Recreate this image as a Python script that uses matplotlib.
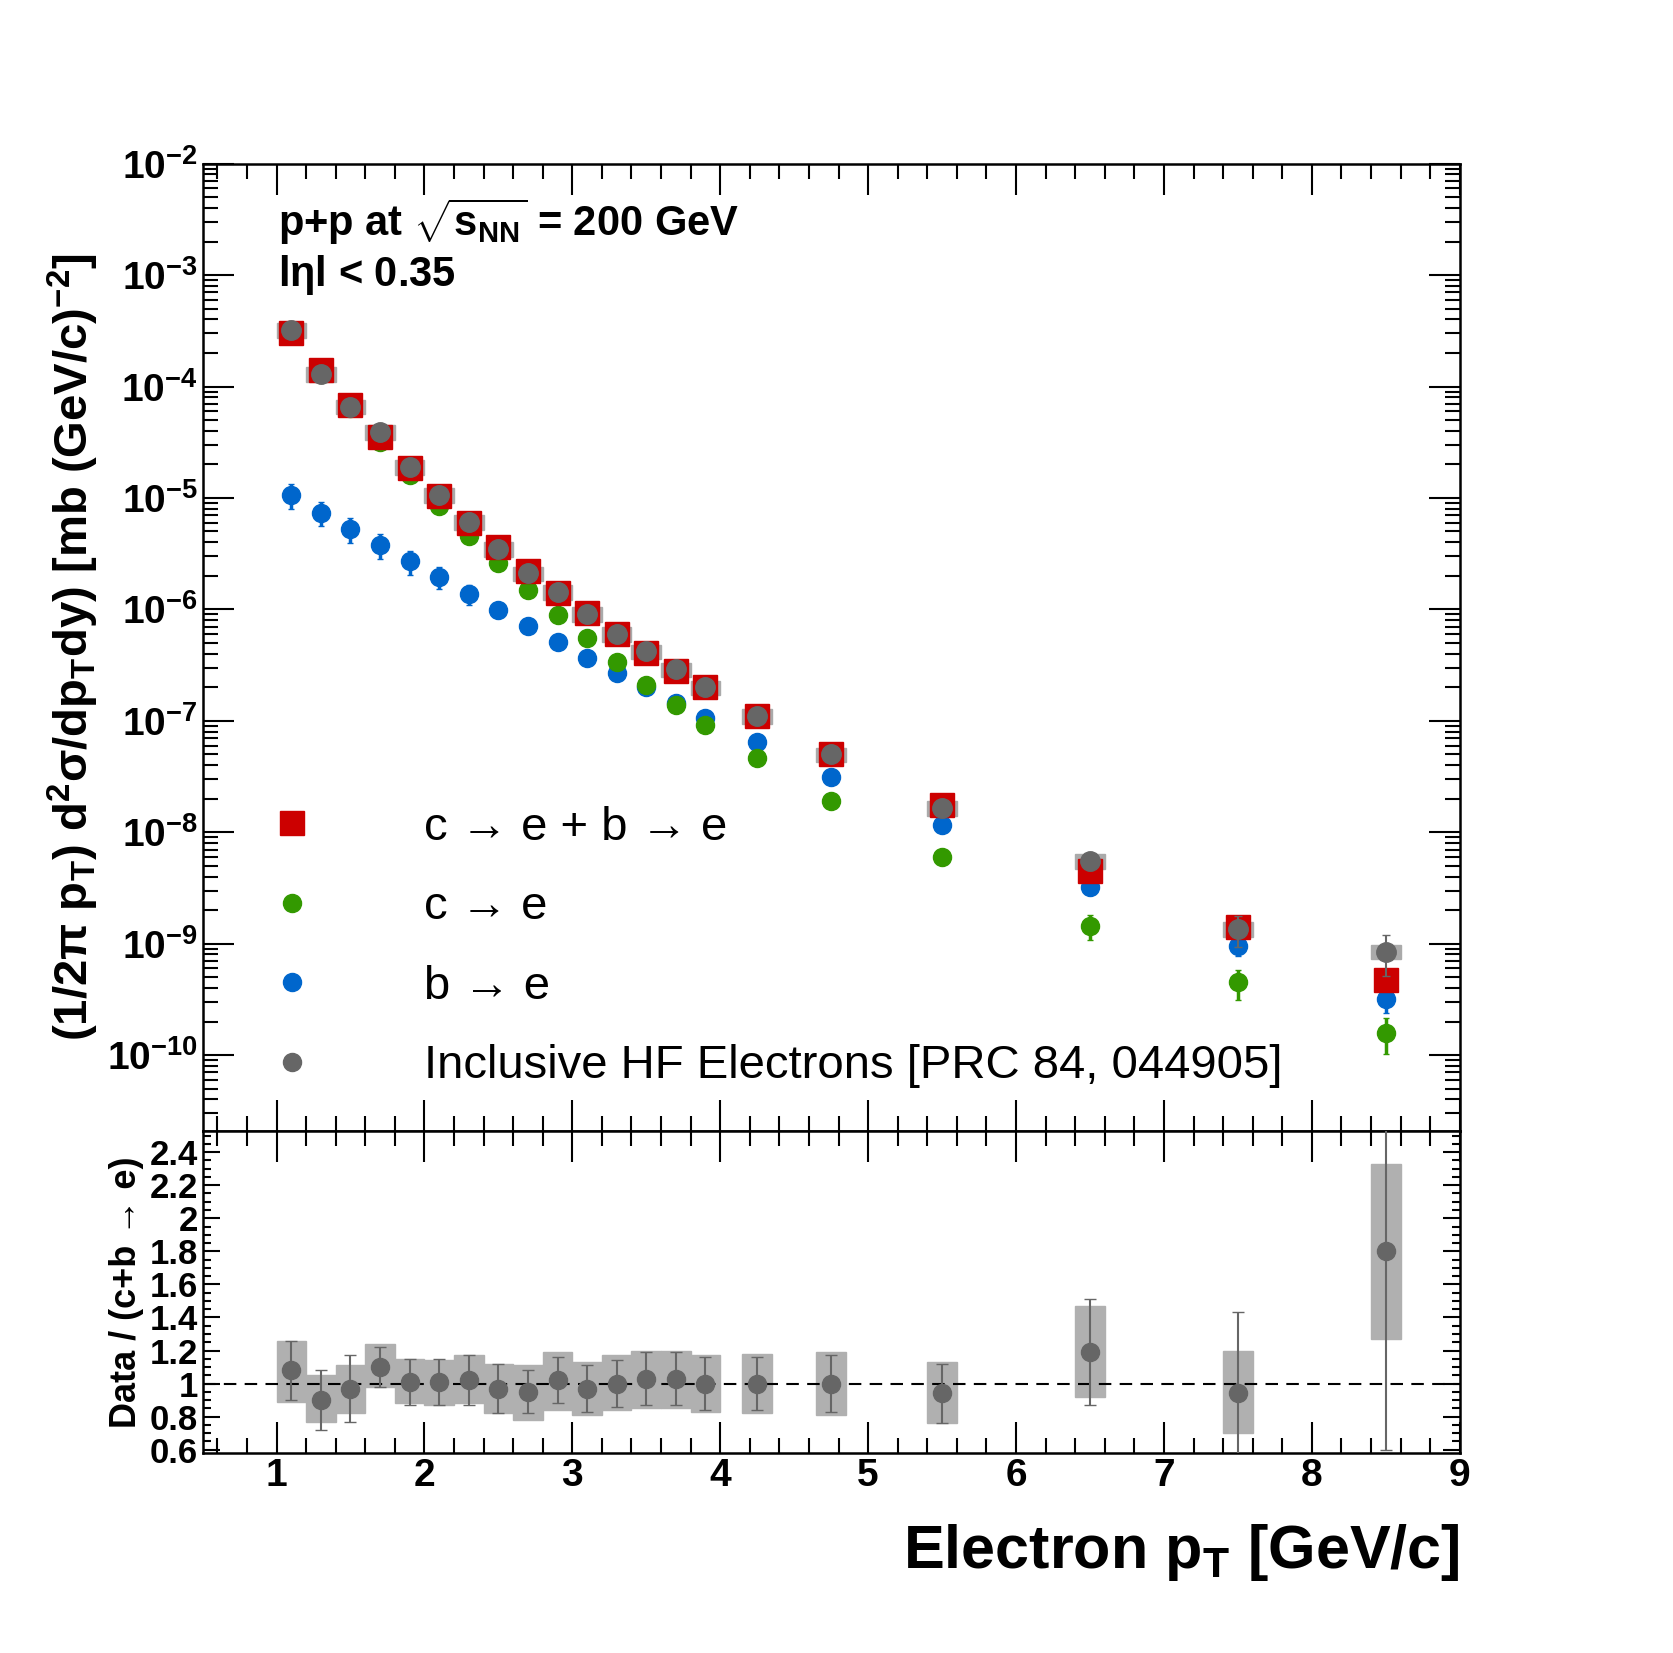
import numpy as np
import matplotlib.pyplot as plt
import matplotlib
from matplotlib.patches import Rectangle
from matplotlib.lines import Line2D
from matplotlib.ticker import LogLocator, MultipleLocator, NullFormatter

matplotlib.rcParams.update({'font.family': 'Liberation Sans', 'font.weight': 'bold',
                            'mathtext.fontset': 'custom', 'mathtext.rm': 'Liberation Sans:bold',
                            'mathtext.it': 'Liberation Sans:bold',
                            'mathtext.bf': 'Liberation Sans:bold', 'mathtext.default': 'bf'})

pt = [1.1, 1.3, 1.5, 1.7, 1.9, 2.1, 2.3, 2.5, 2.7, 2.9, 3.1, 3.3, 3.5, 3.7, 3.9, 4.25, 4.75, 5.5, 6.5, 7.5, 8.5]
incl = [3.2e-4, 1.3e-4, 6.6e-5, 3.9e-5, 1.9e-5, 1.06e-5, 6.1e-6, 3.5e-6, 2.1e-6, 1.43e-6, 9.1e-7, 6.0e-7,
        4.2e-7, 2.9e-7, 2.0e-7, 1.1e-7, 5.0e-8, 1.65e-8, 5.5e-9, 1.35e-9, 8.5e-10]
cb = [3.0e-4, 1.4e-4, 6.8e-5, 3.5e-5, 1.85e-5, 1.05e-5, 6.0e-6, 3.6e-6, 2.2e-6, 1.4e-6, 9.3e-7, 6.0e-7,
      4.1e-7, 2.8e-7, 2.0e-7, 1.1e-7, 5.0e-8, 1.75e-8, 4.5e-9, 1.4e-9, 4.7e-10]
ce = [2.9e-4, 1.3e-4, 6.4e-5, 3.2e-5, 1.6e-5, 8.5e-6, 4.6e-6, 2.6e-6, 1.5e-6, 8.9e-7, 5.5e-7, 3.4e-7,
      2.1e-7, 1.38e-7, 9.1e-8, 4.6e-8, 1.9e-8, 6.0e-9, 1.45e-9, 4.5e-10, 1.58e-10]
be = [1.07e-5, 7.4e-6, 5.3e-6, 3.8e-6, 2.7e-6, 1.95e-6, 1.37e-6, 9.8e-7, 7.1e-7, 5.1e-7, 3.7e-7, 2.7e-7,
      2.0e-7, 1.45e-7, 1.07e-7, 6.5e-8, 3.1e-8, 1.15e-8, 3.2e-9, 9.6e-10, 3.2e-10]
ratio = [1.08, 0.90, 0.97, 1.10, 1.01, 1.01, 1.02, 0.97, 0.95, 1.02, 0.97, 1.00, 1.03, 1.03, 1.00,
         1.00, 1.00, 0.94, 1.19, 0.94, 1.80]
ratio_stat = [0.18, 0.18, 0.20, 0.12, 0.14, 0.14, 0.15, 0.15, 0.13, 0.14, 0.14, 0.14, 0.16, 0.16, 0.16,
              0.16, 0.17, 0.18, 0.32, 0.49, 1.2]
sys_lo = [0.89, 0.77, 0.82, 0.98, 0.88, 0.87, 0.88, 0.82, 0.78, 0.84, 0.81, 0.84, 0.85, 0.85, 0.83,
          0.82, 0.81, 0.76, 0.92, 0.70, 1.27]
sys_hi = [1.26, 1.05, 1.11, 1.24, 1.15, 1.14, 1.17, 1.12, 1.11, 1.19, 1.13, 1.17, 1.20, 1.20, 1.17,
          1.18, 1.19, 1.13, 1.47, 1.20, 2.33]
be_err = [0.25, 0.25, 0.25, 0.25, 0.25, 0.22, 0.2, 0.15, 0.12, 0.08, 0.08, 0.08, 0.08, 0.08, 0.08,
          0.08, 0.08, 0.1, 0.15, 0.2, 0.25]
ce_err = [0.05] * 17 + [0.15, 0.25, 0.3, 0.35]

fig = plt.figure(figsize=(16.74, 16.53), dpi=100)
ax = fig.add_axes([0.121, 0.316, 0.751, 0.585])
ax1 = fig.add_axes([0.121, 0.121, 0.751, 0.195], sharex=ax)

red, green, blue, gray = '#cc0000', '#339900', '#0066cc', '#666666'
pt = np.array(pt)
for i, x in enumerate(pt):
    ax.add_patch(Rectangle((x - 0.1, incl[i] * 0.85), 0.2, incl[i] * 0.3, color='#aaaaaa', zorder=1))
ax.errorbar(pt, be, yerr=np.array(be) * np.array(be_err), fmt='o', color=blue, ms=13, capsize=2,
            elinewidth=2.5, zorder=3)
ax.errorbar(pt, ce, yerr=np.array(ce) * np.array(ce_err), fmt='o', color=green, ms=13, capsize=2,
            elinewidth=2.5, zorder=3)
ax.plot(pt, cb, 's', color=red, ms=17, zorder=4)
ax.errorbar(pt, incl, yerr=np.array(incl) * np.array(ratio_stat) / np.array(ratio) * 0.6, fmt='o',
            color=gray, ms=14, capsize=3, elinewidth=1.5, zorder=5)
ax.set_yscale('log')
ax.set_ylim(2.1e-11, 1e-2)
ax.set_xlim(0.5, 9)

handles = [Line2D([], [], ls='', marker='s', color=red, ms=17),
           Line2D([], [], ls='', marker='o', color=green, ms=13),
           Line2D([], [], ls='', marker='o', color=blue, ms=13),
           Line2D([], [], ls='', marker='o', color=gray, ms=13)]
labels = ['c \u2192 e + b \u2192 e', 'c \u2192 e', 'b \u2192 e', 'Inclusive HF Electrons [PRC 84, 044905]']
ax.legend(handles, labels, loc='lower left', frameon=False, prop={'weight': 'normal', 'size': 34},
          bbox_to_anchor=(0.0, 0.0), labelspacing=0.75, handletextpad=1.8)
ax.text(0.06, 0.94, r'p+p at $\sqrt{\mathbf{s_{NN}}}$ = 200 GeV', transform=ax.transAxes, fontsize=30,
        va='center')
ax.text(0.06, 0.885, r'l$\eta$l < 0.35', transform=ax.transAxes, fontsize=30, va='center')
ax.set_ylabel(r'(1/2$\pi$ p$_T$) d$^2\sigma$/dp$_T$dy) [mb (GeV/c)$^{-2}$]', fontsize=34,
              fontweight='bold')
ax.yaxis.set_major_locator(LogLocator(base=10, numticks=20))
ax.yaxis.set_minor_locator(LogLocator(base=10, subs=np.arange(2, 10), numticks=20))
ax.yaxis.set_minor_formatter(NullFormatter())
plt.setp(ax.get_xticklabels(), visible=False)

for i, x in enumerate(pt):
    ax1.add_patch(Rectangle((x - 0.1, sys_lo[i]), 0.2, sys_hi[i] - sys_lo[i], color='#b0b0b0', zorder=1))
ax1.errorbar(pt, ratio, yerr=ratio_stat, fmt='o', color=gray, ms=13, capsize=4, elinewidth=1.5, zorder=3)
ax1.axhline(1, color='k', ls=(0, (6, 4)), lw=1.5, zorder=2)
ax1.set_ylim(0.58, 2.53)
ax1.yaxis.set_minor_locator(MultipleLocator(0.05))
ax1.xaxis.set_major_locator(MultipleLocator(1))
ax1.xaxis.set_minor_locator(MultipleLocator(0.2))
ax1.set_yticks([0.6, 0.8, 1, 1.2, 1.4, 1.6, 1.8, 2, 2.2, 2.4])
ax1.set_yticklabels(['0.6', '0.8', '1', '1.2', '1.4', '1.6', '1.8', '2', '2.2', '2.4'])
ax1.set_ylabel('Data / (c+b \u2192 e)', fontsize=26, fontweight='bold')
ax1.set_xlabel(r'Electron p$_T$ [GeV/c]', fontsize=44, loc='right', fontweight='bold', labelpad=20)

for a in (ax, ax1):
    a.tick_params(which='both', direction='in', top=True, right=True, labelsize=28, width=1.5)
    a.tick_params(which='major', length=22)
    a.tick_params(which='minor', length=11)
    for s in a.spines.values():
        s.set_linewidth(1.8)
ax1.tick_params(axis='y', labelsize=25)
ax1.tick_params(axis='y', which='major', length=12)
ax1.tick_params(axis='y', which='minor', length=6)

plt.savefig('out.png', dpi=100)
